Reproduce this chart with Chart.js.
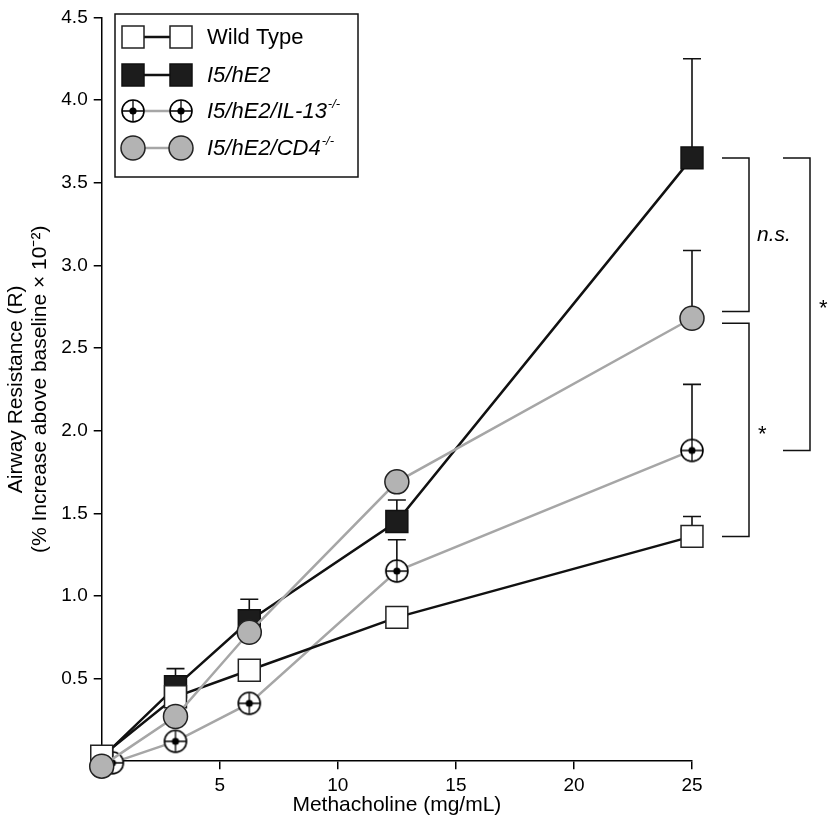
<!DOCTYPE html>
<html>
<head>
<meta charset="utf-8">
<script src="https://cdn.jsdelivr.net/npm/chart.js@4.4.1/dist/chart.umd.min.js"></script>
<style>
  html, body { margin: 0; padding: 0; background: #fff; }
  #wrap { width: 833px; height: 833px; }
</style>
</head>
<body>
<div id="wrap"><canvas id="chart"></canvas></div>
<script>
// Methacholine doses (mg/mL)
const doses = [0, 3.125, 6.25, 12.5, 25];
const il13Doses = [0.45, 3.125, 6.25, 12.5, 25];

// Mean airway resistance for each group
const wildType = [0.03, 0.39, 0.55, 0.87, 1.36];
const hE2 = [0.02, 0.45, 0.85, 1.45, 3.65];
const hE2IL13 = [-0.01, 0.12, 0.35, 1.15, 1.88];
const hE2CD4 = [-0.03, 0.27, 0.78, 1.69, 2.68];

// Upper error bars (SEM), null where none is drawn
const wildTypeErr = [null, null, null, null, 0.12];
const hE2Err = [null, 0.11, 0.13, 0.13, 0.60];
const hE2IL13Err = [null, null, null, 0.19, 0.40];
const hE2CD4Err = [null, null, null, null, 0.41];

// Significance brackets at the 25 mg/mL dose: [top, bottom, label]
const brackets = [
  [3.65, 2.72, 'n.s.'],
  [2.65, 1.36, '*'],
  [3.65, 1.88, '*']
];

const seriesNames = ['Wild Type', 'I5/hE2', 'I5/hE2/IL-13', 'I5/hE2/CD4'];
const seriesSup = ['', '', '-/-', '-/-'];

const FONT = "'Liberation Sans', Arial, Helvetica, sans-serif";

function toPoints(xs, ys) {
  return xs.map((x, i) => ({x: x, y: ys[i]}));
}

// crosshair circle marker for the IL-13 knockout group
function crossCircle(r) {
  const c = document.createElement('canvas');
  const s = Math.ceil(r * 2 + 4);
  c.width = s; c.height = s;
  const g = c.getContext('2d');
  const m = s / 2;
  g.beginPath();
  g.arc(m, m, r, 0, Math.PI * 2);
  g.fillStyle = '#fff';
  g.fill();
  g.lineWidth = 1.6;
  g.strokeStyle = '#000';
  g.stroke();
  g.beginPath();
  g.moveTo(m - r, m); g.lineTo(m + r, m);
  g.moveTo(m, m - r); g.lineTo(m, m + r);
  g.lineWidth = 1.3;
  g.stroke();
  g.beginPath();
  g.arc(m, m, 3.6, 0, Math.PI * 2);
  g.fillStyle = '#000';
  g.fill();
  return c;
}
const crossImg = crossCircle(11);

const datasets = [
  {
    label: seriesNames[0],
    data: toPoints(doses, wildType),
    err: wildTypeErr,
    borderColor: '#111',
    borderWidth: 2.5,
    pointStyle: 'rect',
    pointRadius: 15.5,
    pointBackgroundColor: '#fff',
    pointBorderColor: '#222',
    pointBorderWidth: 1.5,
    order: 1
  },
  {
    label: seriesNames[1],
    data: toPoints(doses, hE2),
    err: hE2Err,
    borderColor: '#111',
    borderWidth: 2.5,
    pointStyle: 'rect',
    pointRadius: 15.5,
    pointBackgroundColor: '#1c1c1c',
    pointBorderColor: '#111',
    pointBorderWidth: 1.5,
    order: 2
  },
  {
    label: seriesNames[2],
    data: toPoints(il13Doses, hE2IL13),
    err: hE2IL13Err,
    borderColor: '#a6a6a6',
    borderWidth: 2.5,
    pointStyle: crossImg,
    pointRadius: 11,
    order: 3
  },
  {
    label: seriesNames[3],
    data: toPoints(doses, hE2CD4),
    err: hE2CD4Err,
    borderColor: '#a6a6a6',
    borderWidth: 2.5,
    pointStyle: 'circle',
    pointRadius: 12,
    pointBackgroundColor: '#b3b3b3',
    pointBorderColor: '#222',
    pointBorderWidth: 1.5,
    order: 0
  }
];
datasets.forEach(d => { d.clip = false; d.tension = 0; d.fill = false; });

// upward error bars, drawn under the markers
const errorBars = {
  id: 'errorBars',
  beforeDatasetsDraw(chart) {
    const ctx = chart.ctx;
    const xs = chart.scales.x, ys = chart.scales.y;
    ctx.save();
    ctx.strokeStyle = '#111';
    ctx.lineWidth = 1.6;
    chart.data.datasets.forEach(ds => {
      ds.data.forEach((p, i) => {
        const e = ds.err[i];
        if (e == null) return;
        const px = xs.getPixelForValue(p.x);
        const y0 = ys.getPixelForValue(p.y);
        const y1 = ys.getPixelForValue(p.y + e);
        ctx.beginPath();
        ctx.moveTo(px, y0); ctx.lineTo(px, y1);
        ctx.moveTo(px - 9, y1); ctx.lineTo(px + 9, y1);
        ctx.stroke();
      });
    });
    ctx.restore();
  }
};

// legend box and significance brackets
const extras = {
  id: 'extras',
  afterDraw(chart) {
    const ctx = chart.ctx;
    const ys = chart.scales.y;
    const area = chart.chartArea;
    ctx.save();

    // brackets
    ctx.strokeStyle = '#111';
    ctx.lineWidth = 1.5;
    ctx.fillStyle = '#000';
    ctx.textBaseline = 'middle';
    ctx.textAlign = 'left';
    brackets.forEach((b, i) => {
      const x0 = area.right + (i < 2 ? 30 : 91);
      const x1 = x0 + 27;
      const t = ys.getPixelForValue(b[0]);
      const bt = ys.getPixelForValue(b[1]);
      ctx.beginPath();
      ctx.moveTo(x0, t); ctx.lineTo(x1, t); ctx.lineTo(x1, bt); ctx.lineTo(x0, bt);
      ctx.stroke();
      if (b[2] === '*') {
        ctx.font = '22px ' + FONT;
        ctx.fillText('*', x1 + 9, (t + bt) / 2 + 5);
      } else {
        ctx.font = 'italic 21px ' + FONT;
        ctx.fillText(b[2], x1 + 8, (t + bt) / 2);
      }
    });

    // legend
    const lx = 115, ly = 14, lw = 243, lh = 163;
    ctx.fillStyle = '#fff';
    ctx.fillRect(lx, ly, lw, lh);
    ctx.strokeStyle = '#111';
    ctx.lineWidth = 1.5;
    ctx.strokeRect(lx, ly, lw, lh);
    const rows = [37, 75, 111, 148];
    chart.data.datasets.forEach((ds, i) => {
      const y = rows[i];
      const m1 = 133, m2 = 181;
      ctx.beginPath();
      ctx.moveTo(m1, y); ctx.lineTo(m2, y);
      ctx.strokeStyle = ds.borderColor;
      ctx.lineWidth = 2.5;
      ctx.stroke();
      [m1, m2].forEach(mx => {
        if (ds.pointStyle === 'rect') {
          ctx.fillStyle = ds.pointBackgroundColor;
          ctx.fillRect(mx - 11, y - 11, 22, 22);
          ctx.strokeStyle = ds.pointBorderColor;
          ctx.lineWidth = 1.5;
          ctx.strokeRect(mx - 11, y - 11, 22, 22);
        } else if (ds.pointStyle === 'circle') {
          ctx.beginPath();
          ctx.arc(mx, y, 12, 0, Math.PI * 2);
          ctx.fillStyle = ds.pointBackgroundColor;
          ctx.fill();
          ctx.strokeStyle = ds.pointBorderColor;
          ctx.lineWidth = 1.5;
          ctx.stroke();
        } else {
          ctx.drawImage(ds.pointStyle, mx - ds.pointStyle.width / 2, y - ds.pointStyle.height / 2);
        }
      });
      ctx.fillStyle = '#000';
      ctx.textBaseline = 'middle';
      ctx.font = (i === 0 ? '' : 'italic ') + '22px ' + FONT;
      ctx.fillText(seriesNames[i], 207, y + 1);
      if (seriesSup[i]) {
        const w = ctx.measureText(seriesNames[i]).width;
        ctx.font = 'italic 13px ' + FONT;
        ctx.fillText(seriesSup[i], 207 + w + 1, y - 7);
      }
    });
    ctx.restore();
  }
};

const dropZero = scale => {
  scale.ticks = scale.ticks.filter(t => t.value !== 0);
};

new Chart(document.getElementById('chart'), {
  type: 'line',
  data: {datasets: datasets},
  plugins: [errorBars, extras],
  options: {
    responsive: true,
    maintainAspectRatio: false,
    animation: false,
    layout: {padding: {top: 0, right: 141, left: 4, bottom: 0}},
    plugins: {legend: {display: false}, tooltip: {enabled: false}},
    scales: {
      x: {
        type: 'linear',
        min: 0, max: 25,
        afterBuildTicks: dropZero,
        ticks: {stepSize: 5, color: '#000', font: {family: FONT, size: 19}, padding: 5},
        grid: {display: true, drawOnChartArea: false, drawTicks: true, tickLength: 8, color: '#000', lineWidth: 1.5},
        border: {display: true, color: '#000', width: 1.5},
        title: {display: true, text: 'Methacholine (mg/mL)', color: '#000', font: {family: FONT, size: 21, lineHeight: 1.0}, padding: {top: -7, bottom: 17}}
      },
      y: {
        min: 0, max: 4.5,
        afterBuildTicks: dropZero,
        ticks: {stepSize: 0.5, color: '#000', font: {family: FONT, size: 19}, padding: 6,
          callback: v => v.toFixed(1)},
        grid: {display: true, drawOnChartArea: false, drawTicks: true, tickLength: 8, color: '#000', lineWidth: 1.5},
        border: {display: true, color: '#000', width: 1.5},
        title: {display: true, text: ['Airway Resistance (R)', '(% Increase above baseline \u00d7 10\u207b\u00b2)'],
          color: '#000', font: {family: FONT, size: 21, lineHeight: 1.15}, padding: {top: 0, bottom: 3}}
      }
    }
  }
});
</script>
</body>
</html>
